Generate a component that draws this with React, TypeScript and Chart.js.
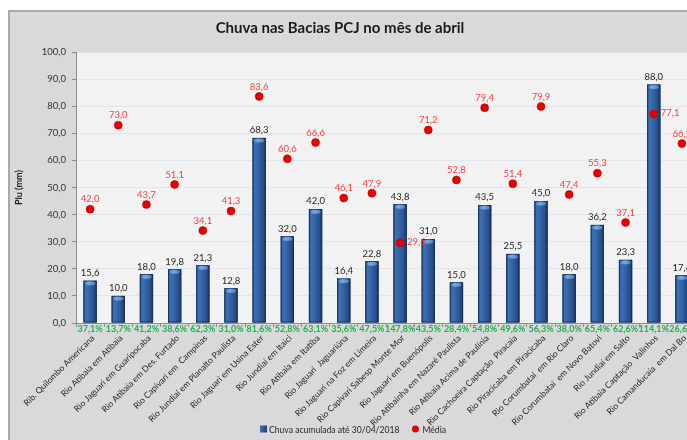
import { useEffect, useRef } from 'react';
import { Chart, registerables } from 'chart.js';

Chart.register(...registerables);

const FONT = 'Lato, "Open Sans", sans-serif';

const titleText = 'Chuva nas Bacias PCJ no mês de abril';
const yAxisTitle = 'Plu (mm)';
const rainLabel = 'Chuva acumulada até 30/04/2018';
const avgLabel = 'Média';

const categories = [
  'Rib. Quilombo Americana',
  'Rio Atibaia em Atibaia',
  'Rio Jaguari em Guaripocaba',
  'Rio Atibaia em Des. Furtado',
  'Rio Capivari em  Campinas',
  'Rio Jundiaí em Planalto Paulista',
  'Rio Jaguari em Usina Ester',
  'Rio Jundiaí em Itaici',
  'Rio Atibaia em Itatiba',
  'Rio Jaguari  Jaguariúna',
  'Rio Jaguari na Foz em Limeira',
  'Rio Capivari Sabesp Monte Mor',
  'Rio Jaguari em Buenópolis',
  'Rio Atibainha em Nazaré Paulista',
  'Rio Atibaia Acima de Paulínia',
  'Rio Cachoeira Captação  Piracaia',
  'Rio Piracicaba em Piracicaba',
  'Rio Corumbataí  em Rio Claro',
  'Rio Corumbataí  em Novo Batovi',
  'Rio Jundiaí em Salto',
  'Rio Atibaia Captação  Valinhos',
  'Rio Camanducaia  em Dal Bo',
];

const rainfall = [
  15.6, 10.0, 18.0, 19.8, 21.3, 12.8, 68.3, 32.0, 42.0, 16.4, 22.8,
  43.8, 31.0, 15.0, 43.5, 25.5, 45.0, 18.0, 36.2, 23.3, 88.0, 17.6,
];

const average = [
  42.0, 73.0, 43.7, 51.1, 34.1, 41.3, 83.6, 60.6, 66.6, 46.1, 47.9,
  29.6, 71.2, 52.8, 79.4, 51.4, 79.9, 47.4, 55.3, 37.1, 77.1, 66.2,
];

const percentOfAverage = [
  37.1, 13.7, 41.2, 38.6, 62.3, 31.0, 81.6, 52.8, 63.1, 35.6, 47.5,
  147.8, 43.5, 28.4, 54.8, 49.6, 56.3, 38.0, 65.4, 62.6, 114.1, 26.6,
];

const yMin = 0;
const yMax = 100;
const yStep = 10;

const fmt = (v: number) => v.toFixed(1).replace('.', ',');

const decorPlugin = {
  id: 'decor',
  beforeDraw(chart: any) {
    const { ctx, chartArea: a } = chart;
    ctx.save();
    ctx.fillStyle = '#f2f2f2';
    ctx.fillRect(a.left, a.top, a.right - a.left, a.bottom - a.top);
    ctx.restore();
  },
  afterDatasetDraw(chart: any, args: any) {
    if (args.index !== 0) return;
    const { ctx } = chart;
    const meta = chart.getDatasetMeta(0);
    ctx.save();
    meta.data.forEach((el: any) => {
      const { x, y, base, width } = el.getProps(['x', 'y', 'base', 'width'], true);
      const l = x - width / 2;
      const g = ctx.createLinearGradient(l, 0, l + width, 0);
      g.addColorStop(0, '#25508e');
      g.addColorStop(0.18, '#3d71b6');
      g.addColorStop(0.45, '#3464a6');
      g.addColorStop(0.8, '#264e8a');
      g.addColorStop(1, '#1a375f');
      ctx.fillStyle = g;
      ctx.fillRect(l, y, width, base - y);
      ctx.strokeStyle = 'rgba(25,45,75,0.8)';
      ctx.lineWidth = 1;
      ctx.strokeRect(l + 0.5, y + 0.5, width - 1, base - y - 1);
      const cg = ctx.createLinearGradient(l, 0, l + width, 0);
      cg.addColorStop(0, '#4a80c6');
      cg.addColorStop(0.4, '#76a8e6');
      cg.addColorStop(1, '#4479bd');
      ctx.fillStyle = cg;
      ctx.beginPath();
      ctx.ellipse(x, y + 2.5, width / 2 - 1.5, 2, 0, 0, Math.PI * 2);
      ctx.fill();
    });
    ctx.restore();
  },
  afterDatasetsDraw(chart: any) {
    const { ctx, chartArea: a } = chart;
    const barMeta = chart.getDatasetMeta(0);
    const avgMeta = chart.getDatasetMeta(1);
    ctx.save();
    ctx.textAlign = 'center';
    ctx.textBaseline = 'bottom';
    ctx.font = `9.5px ${FONT}`;
    ctx.fillStyle = '#262626';
    barMeta.data.forEach((el: any, i: number) => {
      ctx.fillText(fmt(rainfall[i]), el.x, el.y - 3);
    });
    ctx.fillStyle = '#ff3b3b';
    avgMeta.data.forEach((el: any, i: number) => {
      if (average[i] < rainfall[i]) {
        ctx.textAlign = 'left';
        ctx.textBaseline = 'middle';
        ctx.fillText(fmt(average[i]), el.x + 7, el.y - 1);
      } else {
        ctx.textAlign = 'center';
        ctx.textBaseline = 'bottom';
        ctx.fillText(fmt(average[i]), el.x, el.y - 5);
      }
    });
    ctx.font = `bold 9px ${FONT}`;
    ctx.fillStyle = '#1fb050';
    ctx.textAlign = 'center';
    ctx.textBaseline = 'top';
    barMeta.data.forEach((el: any, i: number) => {
      ctx.fillText(fmt(percentOfAverage[i]) + '%', el.x, a.bottom + 2);
    });
    ctx.restore();
  },
  afterDraw(chart: any) {
    const { ctx } = chart;
    ctx.save();
    ctx.font = `bold 15px ${FONT}`;
    ctx.fillStyle = '#1a1a1a';
    ctx.textAlign = 'center';
    ctx.textBaseline = 'middle';
    ctx.fillText(titleText, 330, 16);

    ctx.font = `8.6px ${FONT}`;
    ctx.fillStyle = '#262626';
    ctx.textAlign = 'left';
    const w1 = ctx.measureText(rainLabel).width;
    const w2 = ctx.measureText(avgLabel).width;
    const box = 7;
    const total = box + 2 + w1 + 12 + 8 + 3 + w2;
    let x = 343 - total / 2;
    const y = 418;
    const bg = ctx.createLinearGradient(x, 0, x + box, 0);
    bg.addColorStop(0, '#3d71b6');
    bg.addColorStop(1, '#1f4178');
    ctx.fillStyle = bg;
    ctx.fillRect(x, y - box / 2 - 1, box, box);
    x += box + 2;
    ctx.fillStyle = '#262626';
    ctx.fillText(rainLabel, x, y);
    x += w1 + 12;
    ctx.fillStyle = '#e60000';
    ctx.beginPath();
    ctx.arc(x + 4, y - 1, 3.5, 0, Math.PI * 2);
    ctx.fill();
    x += 11;
    ctx.fillStyle = '#262626';
    ctx.fillText(avgLabel, x, y);
    ctx.restore();
  },
};

export default function App() {
  const ref = useRef<HTMLCanvasElement | null>(null);

  useEffect(() => {
    if (!ref.current) return;
    const chart = new Chart(ref.current, {
      type: 'bar',
      data: {
        labels: categories,
        datasets: [
          {
            type: 'bar',
            label: rainLabel,
            data: rainfall,
            backgroundColor: '#2c5a9a',
            borderWidth: 0,
            barPercentage: 0.47,
            categoryPercentage: 1,
            order: 1,
          },
          {
            type: 'line',
            label: avgLabel,
            data: average,
            showLine: false,
            pointRadius: 4,
            pointHoverRadius: 4,
            pointBackgroundColor: '#e60000',
            pointBorderColor: '#b30000',
            pointBorderWidth: 0.5,
            order: 0,
          } as any,
        ],
      },
      options: {
        animation: false,
        responsive: false,
        devicePixelRatio: 1,
        layout: { padding: { top: 40, right: 14, left: 0, bottom: 0 } },
        plugins: {
          legend: { display: false },
          title: { display: false },
          tooltip: { enabled: false },
        },
        scales: {
          x: {
            grid: {
              display: true,
              drawOnChartArea: false,
              drawTicks: true,
              tickLength: 4,
              offset: true,
              tickColor: '#8c8c8c',
            },
            border: { display: true, color: '#8c8c8c' },
            ticks: {
              autoSkip: false,
              maxRotation: 45,
              minRotation: 45,
              padding: 6,
              labelOffset: 3,
              color: '#262626',
              font: { family: FONT, size: 8.6 },
            },
            afterFit(scale: any) {
              scale.height = 117;
              scale.paddingLeft = 0;
              scale.paddingRight = 0;
            },
          },
          y: {
            min: yMin,
            max: yMax,
            ticks: {
              stepSize: yStep,
              padding: 6,
              color: '#333333',
              font: { family: FONT, size: 9.5 },
              callback: (v: any) => fmt(Number(v)),
            },
            grid: {
              color: '#e2e5ee',
              tickColor: '#8c8c8c',
              tickLength: 4,
            },
            border: { display: true, color: '#8c8c8c' },
            title: {
              display: true,
              text: yAxisTitle,
              color: '#1a1a1a',
              font: { family: FONT, size: 9, weight: 'bold' },
              padding: { top: 4, bottom: 0 },
            },
            afterFit(scale: any) {
              scale.width = 66;
            },
          },
        },
      },
      plugins: [decorPlugin],
    });
    return () => chart.destroy();
  }, []);

  return (
    <div
      style={{
        position: 'fixed',
        left: 0,
        top: 0,
        width: 687,
        height: 440,
        overflow: 'hidden',
        background: '#ffffff',
      }}
    >
      <div
        style={{
          position: 'absolute',
          left: 8,
          top: 10,
          width: 720,
          height: 440,
          background: '#d9d9d9',
          borderLeft: '2px solid #a9a9a9',
          borderTop: '2px solid #a9a9a9',
        }}
      >
        <canvas
          ref={ref}
          width={700}
          height={428}
          style={{ display: 'block', width: 700, height: 428 }}
        />
      </div>
    </div>
  );
}
